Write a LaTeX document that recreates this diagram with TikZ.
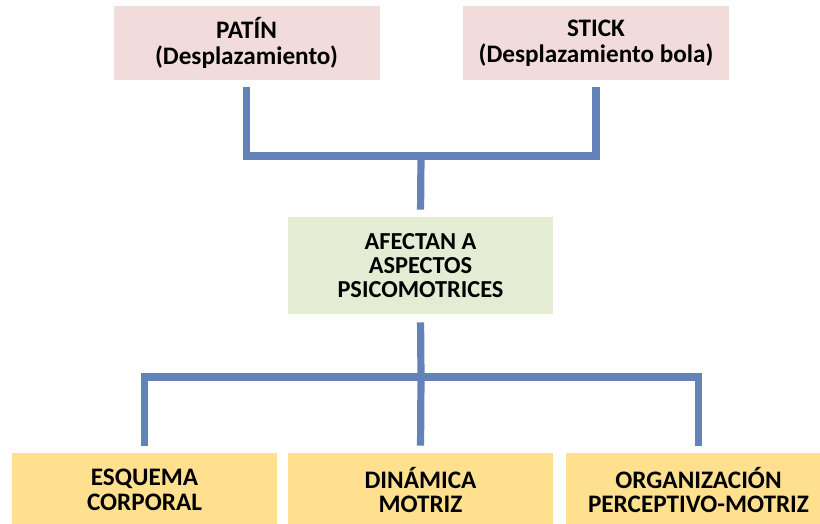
\documentclass[tikz,border=0pt]{standalone}
\usepackage{fontspec}
\setmainfont{Carlito}
\usepackage{tikz}

\definecolor{toolpink}{HTML}{F2DCDB}
\definecolor{aspectgreen}{HTML}{E4EDD3}
\definecolor{areayellow}{HTML}{FFE08F}
\definecolor{linkblue}{HTML}{6382BA}

\tikzset{
  toolbox/.style={fill=toolpink, minimum width=133pt, minimum height=37pt,
    align=center, font=\fontsize{12.6}{12.8}\selectfont\bfseries},
  aspectbox/.style={fill=aspectgreen, minimum width=132.5pt, minimum height=48.5pt,
    align=center, font=\fontsize{12.2}{11.9}\selectfont\bfseries},
  areabox/.style={fill=areayellow, minimum width=132.5pt, minimum height=37pt,
    align=center, font=\fontsize{12.6}{12.2}\selectfont\bfseries},
  link/.style={draw=linkblue, line width=3.6pt}
}

\begin{document}
\begin{tikzpicture}[x=0.5pt, y=-0.5pt]

    \useasboundingbox (0,0) rectangle (820,524);

    % Material
    \node[toolbox] (patin) at (246.5,43) {PATÍN\\(Desplazamiento)};
    \node[toolbox] (stick) at (596,43) {STICK\\(Desplazamiento bola)};

    % Aspectos
    \node[aspectbox] (afectan) at (420.5,265.5) {AFECTAN A\\ASPECTOS\\PSICOMOTRICES};

    \node[areabox] (esquema) at (144.5,490) {ESQUEMA\\CORPORAL};
    \node[areabox] (dinamica) at (420.5,490) {DINÁMICA\\MOTRIZ};
    \node[areabox] (organizacion) at (698.5,490) {ORGANIZACIÓN\\PERCEPTIVO-MOTRIZ};

    % Connectors
    \coordinate (topjoin) at (421,156);
    \coordinate (lowjoin) at (421,377);

    \draw[link, shorten <=3.5pt, shorten >=3.5pt] (patin.south) |- (topjoin) -| (stick.south);
    \draw[link, shorten >=3.5pt] (topjoin) -- (afectan.north);
    \draw[link, shorten <=4pt] (afectan.south) -- (lowjoin);
    \draw[link, shorten <=3.5pt, shorten >=3.5pt] (esquema.north) |- (lowjoin) -| (organizacion.north);
    \draw[link, shorten >=3.5pt] (lowjoin) -- (dinamica.north);

\end{tikzpicture}
\end{document}
